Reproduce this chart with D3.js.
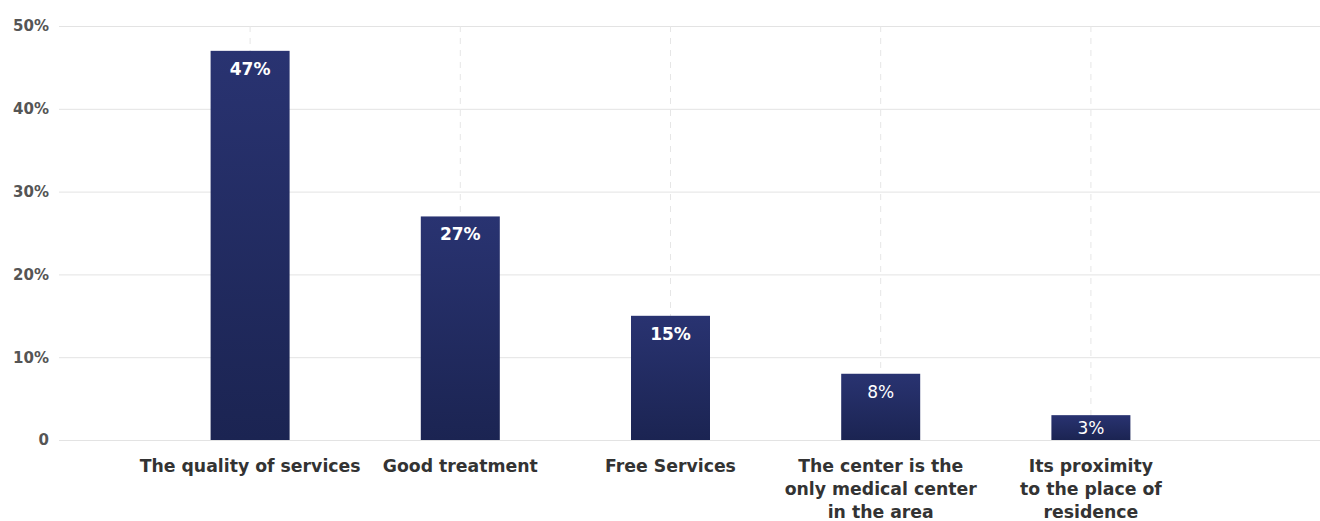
<!DOCTYPE html>
<html>
<head>
<meta charset="utf-8">
<script src="https://cdn.jsdelivr.net/npm/d3@7"></script>
<style>
  html, body { margin: 0; padding: 0; background: #ffffff; }
  svg { display: block; }
  text { font-family: "DejaVu Sans", "Noto Sans", sans-serif; }
</style>
</head>
<body>
<svg id="chart" width="1320" height="521"></svg>
<script>
// Reasons for choosing the center (% of respondents)
const categories = [
  ["The quality of services"],
  ["Good treatment"],
  ["Free Services"],
  ["The center is the", "only medical center", "in the area"],
  ["Its proximity", "to the place of", "residence"]
];
const values = [47, 27, 15, 8, 3];
const yTicks = [0, 10, 20, 30, 40, 50];

const svg = d3.select("#chart");
const plot = { left: 59, right: 1320, top: 26, bottom: 440 };

const x = d3.scalePoint()
  .domain(d3.range(categories.length))
  .range([145, 1196])
  .padding(0.5);

const y = d3.scaleLinear()
  .domain([0, 50])
  .range([plot.bottom, plot.top]);

const barWidth = 79;

// vertical gradient for the bars
const defs = svg.append("defs");
const grad = defs.append("linearGradient")
  .attr("id", "barGrad")
  .attr("x1", 0).attr("y1", 0).attr("x2", 0).attr("y2", 1);
grad.append("stop").attr("offset", "0%").attr("stop-color", "#293371");
grad.append("stop").attr("offset", "100%").attr("stop-color", "#1b2452");

// horizontal gridlines + percentage labels
const yAxis = d3.axisLeft(y)
  .tickValues(yTicks)
  .tickSize(-(plot.right - plot.left))
  .tickPadding(10)
  .tickFormat(d => d === 0 ? "0" : d + "%");

const gy = svg.append("g")
  .attr("transform", `translate(${plot.left},0)`)
  .call(yAxis);
gy.select(".domain").remove();
gy.selectAll(".tick line").attr("stroke", "#e3e3e3").attr("stroke-width", 1);
gy.selectAll(".tick text")
  .attr("fill", "#555555")
  .attr("font-size", 15)
  .attr("font-weight", 700)
  .attr("font-family", "'DejaVu Sans', sans-serif");

// vertical dashed guides at category centers
svg.append("g")
  .selectAll("line")
  .data(d3.range(categories.length))
  .join("line")
  .attr("x1", i => x(i)).attr("x2", i => x(i))
  .attr("y1", plot.top).attr("y2", plot.bottom)
  .attr("stroke", "#e6e6e6")
  .attr("stroke-dasharray", "6,6");

// bars
svg.append("g")
  .selectAll("rect")
  .data(values)
  .join("rect")
  .attr("x", (d, i) => x(i) - barWidth / 2)
  .attr("y", d => y(d))
  .attr("width", barWidth)
  .attr("height", d => y(0) - y(d))
  .attr("fill", "url(#barGrad)");

// value labels inside bars
svg.append("g")
  .selectAll("text")
  .data(values)
  .join("text")
  .attr("x", (d, i) => x(i))
  .attr("y", d => y(d) + Math.min(24, (y(0) - y(d)) / 2 + 6))
  .attr("text-anchor", "middle")
  .attr("fill", "#ffffff")
  .attr("font-size", 17)
  .attr("font-weight", d => d >= 10 ? 700 : 500)
  .text(d => d + "%");

// category labels
const cat = svg.append("g")
  .selectAll("text")
  .data(categories)
  .join("text")
  .attr("x", (d, i) => x(i))
  .attr("y", 472)
  .attr("text-anchor", "middle")
  .attr("fill", "#333333")
  .attr("font-size", 17.3)
  .attr("font-weight", 700);
cat.selectAll("tspan")
  .data(d => d)
  .join("tspan")
  .attr("x", function () { return d3.select(this.parentNode).attr("x"); })
  .attr("dy", (d, j) => j === 0 ? 0 : 23)
  .text(d => d);
</script>
</body>
</html>
